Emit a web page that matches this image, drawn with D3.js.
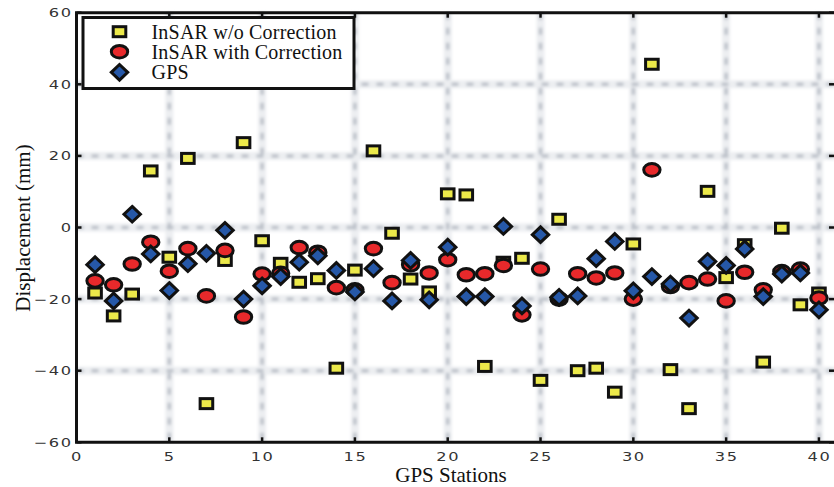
<!DOCTYPE html>
<html>
<head>
<meta charset="utf-8">
<script src="https://cdn.jsdelivr.net/npm/d3@7"></script>
<style>
  body { margin: 0; background: #fff; }
  svg { display: block; }
</style>
</head>
<body>
<svg id="chart" width="834" height="487"></svg>
<script>
// GPS station index 1..40
var stations = d3.range(1, 41);

var insarNoCorr = [-18.3, -24.7, -18.6, 15.8, -8.3, 19.3, -49.2, -9.2, 23.7, -3.7,
                   -10.0, -15.3, -14.3, -39.3, -11.9, 21.4, -1.6, -14.4, -18.0, 9.4,
                   9.1, -38.8, -9.7, -8.6, -42.7, 2.3, -40.0, -39.3, -46.0, -4.6,
                   45.6, -39.7, -50.6, 10.1, -14.0, -4.8, -37.6, -0.2, -21.6, -18.3];

var insarCorr = [-14.9, -16.0, -10.2, -4.1, -12.2, -5.9, -19.1, -6.4, -25.0, -13.0,
                 -12.8, -5.6, -6.9, -16.8, -17.4, -5.9, -15.4, -10.4, -12.7, -9.0,
                 -13.2, -12.9, -10.6, -24.4, -11.6, -20.0, -12.9, -14.1, -12.7, -20.0,
                 16.1, -16.5, -15.4, -14.4, -20.5, -12.5, -17.4, -12.3, -11.6, -19.7];

var gps = [-10.4, -20.5, 3.7, -7.4, -17.6, -10.1, -7.2, -0.8, -20.0, -16.3,
           -13.7, -9.7, -7.9, -12.0, -18.0, -11.5, -20.5, -9.2, -20.2, -5.5,
           -19.3, -19.3, 0.3, -21.9, -2.0, -19.5, -19.1, -8.7, -3.9, -17.7,
           -13.7, -15.8, -25.3, -9.5, -10.6, -6.0, -19.3, -13.0, -12.7, -23.0];

var xTicks = [0, 5, 10, 15, 20, 25, 30, 35, 40];
var yTicks = [-60, -40, -20, 0, 20, 40, 60];
var legendLabels = ["InSAR w/o Correction", "InSAR with Correction", "GPS"];

var colors = { square: "#ece94a", circle: "#e8292b", diamond: "#2658a8" };

var svg = d3.select("#chart");
var pLeft = 76.5, pRight = 837.5, pTop = 12.7, pBottom = 442.3;

var x = d3.scaleLinear().domain([0, 41]).range([pLeft, pRight]);
var y = d3.scaleLinear().domain([-60, 60]).range([pBottom, pTop]);

// blur for the fuzzy grid
var defs = svg.append("defs");
defs.append("filter").attr("id", "blur")
    .attr("x", "-5%").attr("y", "-5%").attr("width", "110%").attr("height", "110%")
  .append("feGaussianBlur").attr("stdDeviation", 1.5);

// grid
var grid = svg.append("g").attr("filter", "url(#blur)");
var gx = xTicks.filter(function(d) { return d > 0; });
var gy = yTicks.filter(function(d) { return d > -60 && d < 60; });

grid.selectAll(".vband").data(gx).enter().append("line")
    .attr("x1", function(d) { return x(d); }).attr("x2", function(d) { return x(d); })
    .attr("y1", pTop).attr("y2", pBottom)
    .attr("stroke", "#eceef1").attr("stroke-width", 8);
grid.selectAll(".hband").data(gy).enter().append("line")
    .attr("y1", function(d) { return y(d); }).attr("y2", function(d) { return y(d); })
    .attr("x1", pLeft).attr("x2", pRight)
    .attr("stroke", "#eceef1").attr("stroke-width", 8);
grid.selectAll(".vdash").data(gx).enter().append("line")
    .attr("x1", function(d) { return x(d); }).attr("x2", function(d) { return x(d); })
    .attr("y1", pTop).attr("y2", pBottom)
    .attr("stroke", "#bcc1c9").attr("stroke-width", 3.5)
    .attr("stroke-dasharray", "7,8");
grid.selectAll(".hdash").data(gy).enter().append("line")
    .attr("y1", function(d) { return y(d); }).attr("y2", function(d) { return y(d); })
    .attr("x1", pLeft).attr("x2", pRight)
    .attr("stroke", "#bcc1c9").attr("stroke-width", 3.5)
    .attr("stroke-dasharray", "7,8");

// axes
var xAxis = svg.append("g")
    .attr("transform", "translate(0," + pBottom + ")")
    .call(d3.axisBottom(x).tickValues(xTicks).tickSize(0).tickPadding(10));
var yAxis = svg.append("g")
    .attr("transform", "translate(" + pLeft + ",0)")
    .call(d3.axisLeft(y).tickValues(yTicks).tickSize(0).tickPadding(3));

[xAxis, yAxis].forEach(function(ax) {
    ax.select(".domain").remove();
    ax.selectAll("text")
        .attr("font-family", "DejaVu Sans")
        .attr("font-size", 12.5)
        .attr("letter-spacing", 1.2)
        .attr("fill", "#333")
        .attr("transform", "scale(1.3,1)");
});

// inward ticks on all four sides
var ticks = svg.append("g").attr("stroke", "#111").attr("stroke-width", 2.5);
ticks.selectAll(".tb").data(xTicks).enter().append("line")
    .attr("x1", function(d) { return x(d); }).attr("x2", function(d) { return x(d); })
    .attr("y1", pBottom).attr("y2", pBottom - 5);
ticks.selectAll(".tt").data(xTicks).enter().append("line")
    .attr("x1", function(d) { return x(d); }).attr("x2", function(d) { return x(d); })
    .attr("y1", pTop).attr("y2", pTop + 5);
ticks.selectAll(".tl").data(yTicks).enter().append("line")
    .attr("y1", function(d) { return y(d); }).attr("y2", function(d) { return y(d); })
    .attr("x1", pLeft).attr("x2", pLeft + 5);
ticks.selectAll(".tr").data(yTicks).enter().append("line")
    .attr("y1", function(d) { return y(d); }).attr("y2", function(d) { return y(d); })
    .attr("x1", 834).attr("x2", 829);

// frame
svg.append("path")
    .attr("d", "M" + pRight + "," + pTop + "H" + pLeft + "V" + pBottom + "H" + pRight)
    .attr("fill", "none").attr("stroke", "#111").attr("stroke-width", 3);

// axis titles
svg.append("text")
    .attr("x", 451).attr("y", 482)
    .attr("text-anchor", "middle")
    .attr("font-family", "Liberation Serif").attr("font-size", 21)
    .attr("fill", "#111")
    .text("GPS Stations");
svg.append("text")
    .attr("transform", "translate(30,228) rotate(-90)")
    .attr("text-anchor", "middle")
    .attr("font-family", "Liberation Serif").attr("font-size", 21)
    .attr("fill", "#111")
    .text("Displacement (mm)");

// marker drawers
function square(sel) {
    sel.attr("x", -6.3).attr("y", -5).attr("width", 12.6).attr("height", 10)
        .attr("fill", colors.square).attr("stroke", "#111").attr("stroke-width", 3);
}
function circle(sel) {
    sel.attr("rx", 8.2).attr("ry", 6.3)
        .attr("fill", colors.circle).attr("stroke", "#111").attr("stroke-width", 3);
}
function diamond(sel) {
    sel.attr("d", "M0,-7.8L8.2,0L0,7.8L-8.2,0Z")
        .attr("fill", colors.diamond).attr("stroke", "#111").attr("stroke-width", 3)
        .attr("stroke-linejoin", "miter");
}

var marks = svg.append("g");
marks.selectAll(".sq").data(stations).enter().append("rect")
    .attr("transform", function(d, i) { return "translate(" + x(d) + "," + y(insarNoCorr[i]) + ")"; })
    .call(square);
marks.selectAll(".ci").data(stations).enter().append("ellipse")
    .attr("cx", function(d) { return x(d); })
    .attr("cy", function(d, i) { return y(insarCorr[i]); })
    .call(circle);
marks.selectAll(".di").data(stations).enter().append("path")
    .attr("transform", function(d, i) { return "translate(" + x(d) + "," + y(gps[i]) + ")"; })
    .call(diamond);

// legend
var legend = svg.append("g");
legend.append("rect")
    .attr("x", 83).attr("y", 17.5).attr("width", 271).attr("height", 71)
    .attr("fill", "#fff").attr("stroke", "#111").attr("stroke-width", 3);
var rowY = [31.7, 51.7, 72.3];
var lg = legend.selectAll(".row").data(legendLabels).enter().append("g")
    .attr("transform", function(d, i) { return "translate(119.5," + rowY[i] + ")"; });
lg.filter(function(d, i) { return i === 0; }).append("rect").call(square);
lg.filter(function(d, i) { return i === 1; }).append("ellipse").call(circle);
lg.filter(function(d, i) { return i === 2; }).append("path").call(diamond);
lg.append("text")
    .attr("x", 32).attr("y", 7)
    .attr("font-family", "Liberation Serif").attr("font-size", 20)
    .attr("letter-spacing", 0.2)
    .attr("fill", "#111")
    .text(function(d) { return d; });
</script>
</body>
</html>
